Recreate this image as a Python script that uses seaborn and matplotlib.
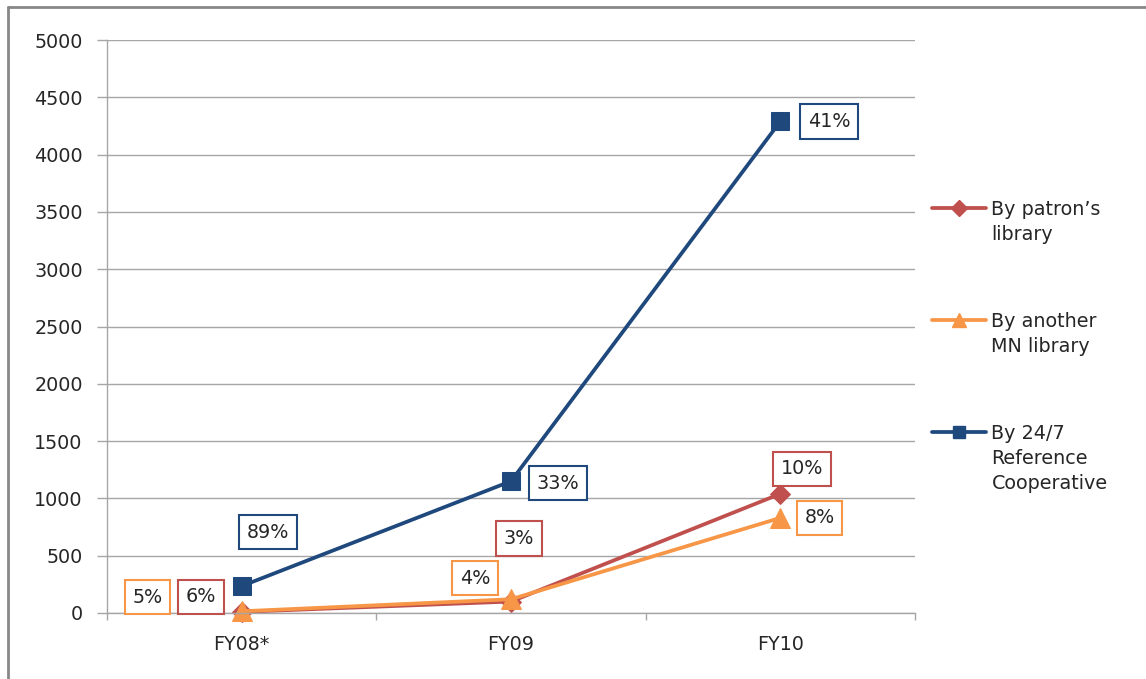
import numpy as np
import pandas as pd
import matplotlib
matplotlib.use("Agg")
import matplotlib.pyplot as plt
from matplotlib.lines import Line2D
import seaborn as sns

# ---- data -------------------------------------------------------------
categories = ["FY08*", "FY09", "FY10"]
series_names = ["By patron\u2019s\nlibrary", "By another\nMN library", "By 24/7\nReference\nCooperative"]
patron_values = [10, 100, 1040]
another_values = [15, 120, 830]
coop_values = [235, 1150, 4290]
patron_pct = ["6%", "3%", "10%"]
another_pct = ["5%", "4%", "8%"]
coop_pct = ["89%", "33%", "41%"]
y_ticks = list(range(0, 5001, 500))

# ---- styling ----------------------------------------------------------
sns.set_theme(style="white")
plt.rcParams["font.family"] = ["DejaVu Sans"]
FS = 13.8
TXT = "#262626"
GRID = "#A6A6A6"
RED, ORANGE, BLUE = "#C0504D", "#F79646", "#1F497D"

fig = plt.figure(figsize=(11.46, 6.79), dpi=100)
W, H = 1146, 679
ax = fig.add_axes([107 / W, (H - 613) / H, 808 / W, 573 / H])

pos = np.arange(len(categories))
frames = []
for name, vals in zip(series_names, [patron_values, another_values, coop_values]):
    frames.append(pd.DataFrame({"pos": pos, "value": vals, "series": name}))
df = pd.concat(frames, ignore_index=True)

specs = [
    (series_names[0], RED, "D", 10, patron_pct,
     [(-41, 15), (8, 63), (22, 25)]),
    (series_names[1], ORANGE, "^", 14, another_pct,
     [(-94, 14), (-36, 21), (39, 0)]),
    (series_names[2], BLUE, "s", 13, coop_pct,
     [(26, 54), (47, -2), (49, 0)]),
]

for name, color, marker, ms, pcts, offs in specs:
    sub = df[df["series"] == name]
    sns.lineplot(data=sub, x="pos", y="value", ax=ax, color=color,
                 marker=marker, markersize=ms, markeredgecolor=color,
                 linewidth=2.7, label=name, legend=False, clip_on=False)
    for xi, yi, txt, (dx, dy) in zip(sub["pos"], sub["value"], pcts, offs):
        ax.annotate(txt, xy=(xi, yi), xytext=(dx, dy), textcoords="offset pixels",
                    ha="center", va="center", fontsize=FS, color=TXT, zorder=6,
                    bbox=dict(boxstyle="square,pad=0.4", fc="white", ec=color, lw=1.5))

# ---- axes -------------------------------------------------------------
ax.set_xlim(-0.5, len(categories) - 0.5)
ax.set_ylim(0, 5000)
ax.set_yticks(y_ticks)
ax.set_yticklabels([str(t) for t in y_ticks])
ax.set_xticks(np.arange(len(categories) + 1) - 0.5)
ax.set_xticklabels([])
ax.set_xticks(pos, minor=True)
ax.set_xticklabels(categories, minor=True)
ax.set_xlabel("")
ax.set_ylabel("")

ax.grid(axis="y", color=GRID, lw=1)
ax.grid(axis="x", visible=False)
ax.set_axisbelow(True)
for side in ["top", "right"]:
    ax.spines[side].set_visible(False)
for side in ["left", "bottom"]:
    ax.spines[side].set_color(GRID)
    ax.spines[side].set_linewidth(1)

ax.tick_params(axis="y", which="major", direction="out", length=7, width=1,
               color=GRID, pad=10.5, labelsize=FS, labelcolor=TXT, left=True)
ax.tick_params(axis="x", which="major", direction="out", length=5, width=1,
               color=GRID, bottom=True)
ax.tick_params(axis="x", which="minor", length=0, pad=16, labelsize=FS,
               labelcolor=TXT, bottom=True)

# ---- legend -----------------------------------------------------------
handles = [Line2D([], [], color=c, marker=m, markersize=s, markeredgecolor=c, lw=2.7)
           for (_, c, m, _, _, _), s in zip(specs, [8, 10, 9])]
leg = fig.legend(handles, series_names, loc="upper left",
                 bbox_to_anchor=(932 / W, 1 - 200 / H), bbox_transform=fig.transFigure,
                 frameon=False, fontsize=FS, handlelength=2.8, handletextpad=0.3,
                 handleheight=1.2, labelspacing=3.55, borderpad=0, borderaxespad=0)
for t in leg.get_texts():
    t.set_color(TXT)
    t.set_linespacing(1.4)
for col in leg._legend_handle_box.get_children():
    for item in col.get_children():
        item.align = "top"

# ---- outer frame ------------------------------------------------------
fig.add_artist(Line2D([7.5 / W, 1], [1 - 6.5 / H, 1 - 6.5 / H], transform=fig.transFigure,
                      color="#888888", lw=2))
fig.add_artist(Line2D([7.5 / W, 7.5 / W], [0, 1 - 6.5 / H], transform=fig.transFigure,
                      color="#888888", lw=2))

fig.savefig("out.png", dpi=100)
